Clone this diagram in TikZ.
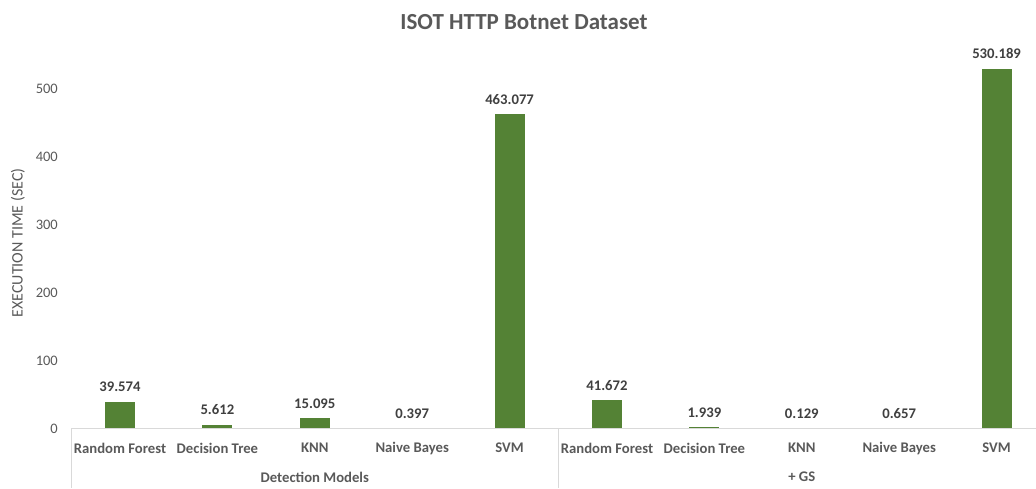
\documentclass[tikz,border=0pt]{standalone}
\usepackage{fontspec}
\setmainfont{Carlito}
\definecolor{bargreen}{HTML}{548235}
\definecolor{axisgray}{HTML}{D9D9D9}
\definecolor{textgray}{HTML}{595959}
\definecolor{valgray}{HTML}{404040}
\begin{document}
\begin{tikzpicture}[x=1pt,y=1pt,
  bar/.style={fill=bargreen, draw=none},
  vallabel/.style={font=\bfseries\fontsize{14.7}{16}\selectfont, text=valgray, anchor=base, inner sep=0pt},
  catlabel/.style={font=\bfseries\fontsize{14.7}{16}\selectfont, text=textgray, inner sep=0pt},
  ticklabel/.style={font=\fontsize{14.5}{16}\selectfont, text=textgray, anchor=east, inner sep=0pt},
  axisline/.style={draw=axisgray, line width=1pt}]
\useasboundingbox (0,0) rectangle (1036,-488);

% chart title and value-axis title
\node[font=\bfseries\fontsize{23}{26}\selectfont, text=textgray] (title) at (524,-22) {ISOT HTTP Botnet Dataset};
\node[rotate=90, font=\fontsize{16}{18}\selectfont, text=textgray] (ytitle) at (18,-243) {EXECUTION TIME (SEC)};

% value-axis tick labels: y = -428.5 + 0.679 v
\foreach \t in {0,100,...,500}{
  \node[ticklabel] (tick\t) at (58,-428.5+0.679*\t) {\t};
}

% bars, value labels and category labels
\foreach \i/\v/\lab in {0/39.574/{Random Forest},1/5.612/{Decision Tree},2/15.095/KNN,3/0.397/{Naive Bayes},4/463.077/SVM,5/41.672/{Random Forest},6/1.939/{Decision Tree},7/0.129/KNN,8/0.657/{Naive Bayes},9/530.189/SVM}{
  \pgfmathsetmacro\cx{120+97.4*\i}
  \pgfmathsetmacro\bartop{-428.5+0.679*\v}
  \fill[bar] (\cx-15,-428.5) rectangle (\cx+15,\bartop);
  \node[vallabel] (val\i) at (\cx,\bartop+10) {\v};
  \node[catlabel] (cat\i) at (\cx,-448) {\lab};
}

% category axis and group separators
\coordinate (axL) at (71.3,-428.5);
\coordinate (axR) at (1036,-428.5);
\coordinate (sepA) at (71.3,-488);
\coordinate (midT) at (558.3,-428.5);
\coordinate (midB) at (558.3,-488);
\draw[axisline] (axL) -- (axR);
\draw[axisline] (axL) -- (sepA);
\draw[axisline] (midT) -- (midB);

% group labels
\node[catlabel] (grp1) at (314.8,-477) {Detection Models};
\node[catlabel] (grp2) at (801.8,-477) {+ GS};
\end{tikzpicture}
\end{document}
